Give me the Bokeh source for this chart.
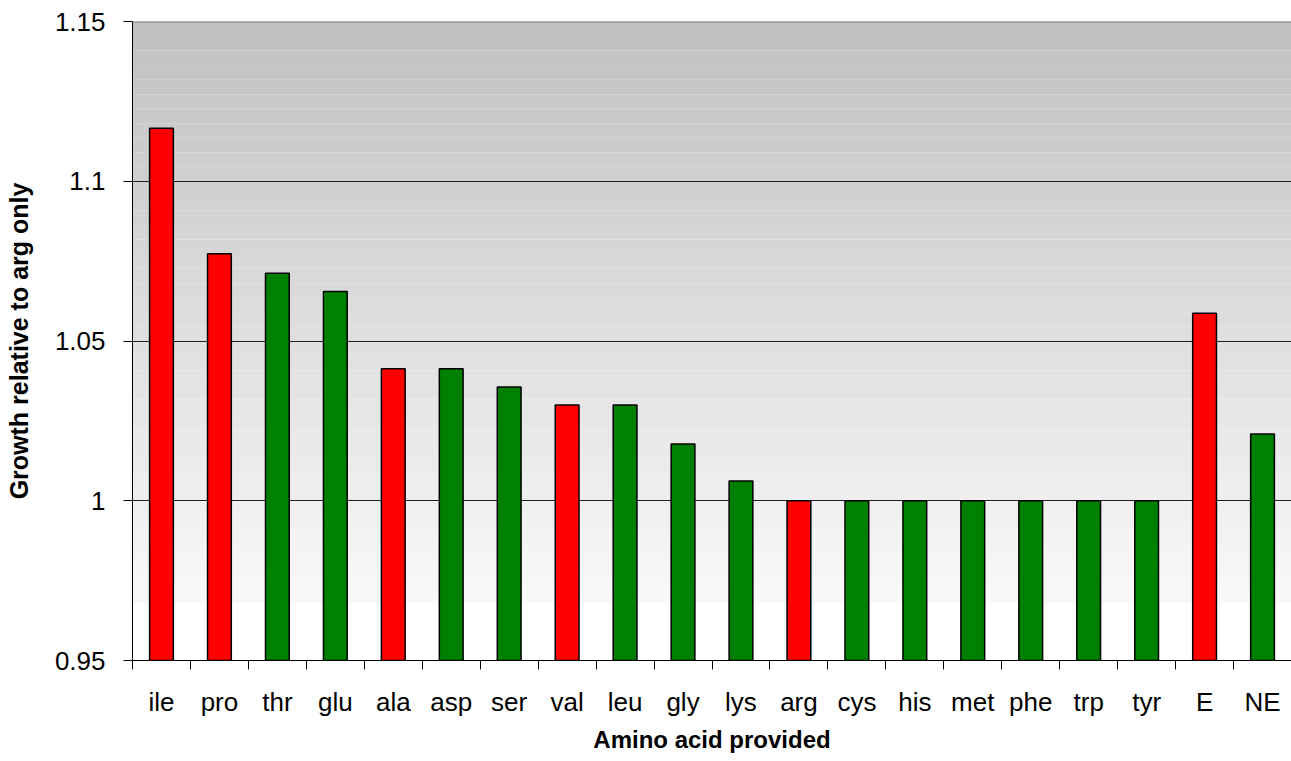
from bokeh.plotting import figure
from bokeh.models import FixedTicker, Range1d, BoxAnnotation, Span, ColumnDataSource
from bokeh.transform import factor_cmap
from bokeh.embed import file_html
from bokeh.resources import INLINE

categories = ["ile", "pro", "thr", "glu", "ala", "asp", "ser", "val", "leu", "gly",
              "lys", "arg", "cys", "his", "met", "phe", "trp", "tyr", "E", "NE"]
growth = [1.1166, 1.0773, 1.0712, 1.0655, 1.0413, 1.0413, 1.0356, 1.0300, 1.0300, 1.0178,
          1.0062, 1.0, 1.0, 1.0, 1.0, 1.0, 1.0, 1.0, 1.0587, 1.0209]
group = ["E", "E", "NE", "NE", "E", "NE", "NE", "E", "NE", "NE",
         "NE", "E", "NE", "NE", "NE", "NE", "NE", "NE", "E", "NE"]
y_ticks = [0.95, 1.0, 1.05, 1.1, 1.15]
y_tick_labels = ["0.95", "1", "1.05", "1.1", "1.15"]

FONT = "Liberation Sans"
n = len(categories)
xs = list(range(n))

src = ColumnDataSource(dict(x=xs, top=growth, cat=categories, grp=group))

p = figure(width=1291, height=761, output_backend="svg", toolbar_location=None,
           x_range=Range1d(-0.5, n - 0.5), y_range=Range1d(0.95, 1.15),
           min_border_left=132, min_border_right=0, min_border_top=21, min_border_bottom=101)
p.outline_line_color = None
p.background_fill_color = "white"
p.border_fill_color = "white"

# gradient background
y0, y1 = 0.968, 1.15
steps = 40
for i in range(steps):
    b = y0 + (y1 - y0) * i / steps
    t = y0 + (y1 - y0) * (i + 1) / steps
    frac = (i + 0.5) / steps
    g = int(round(249 - (249 - 192) * frac))
    p.add_layout(BoxAnnotation(bottom=b, top=t, fill_color=(g, g, g), fill_alpha=1.0,
                               line_color=None, level="image"))

p.vbar(x="x", top="top", bottom=0.95, width=0.41, source=src,
       fill_color=factor_cmap("grp", palette=["#ff0000", "#008000"], factors=["E", "NE"]),
       line_color="black", line_width=1.5)

p.add_layout(Span(location=1.15, dimension="width", line_color="#7f7f7f", line_width=2))

# grid
p.xgrid.visible = False
p.ygrid.ticker = FixedTicker(ticks=[1.0, 1.05, 1.1])
p.ygrid.grid_line_color = "#202020"
p.ygrid.grid_line_width = 1

# y axis
p.yaxis.ticker = FixedTicker(ticks=y_ticks, minor_ticks=[])
p.yaxis.major_label_overrides = {t: l for t, l in zip(y_ticks, y_tick_labels)}
p.yaxis.major_tick_out = 9
p.yaxis.major_tick_in = 0
p.yaxis.minor_tick_out = 0
p.yaxis.minor_tick_in = 0
p.yaxis.axis_line_color = "black"
p.yaxis.major_label_standoff = 18
p.yaxis.major_label_text_font = FONT
p.yaxis.major_label_text_font_size = "26px"
p.yaxis.major_label_text_color = "black"
p.yaxis.axis_label = "Growth relative to arg only"
p.yaxis.axis_label_text_font = FONT
p.yaxis.axis_label_text_font_style = "bold"
p.yaxis.axis_label_text_font_size = "25px"
p.yaxis.axis_label_text_color = "black"
p.yaxis.axis_label_standoff = 19

# x axis
p.xaxis.ticker = FixedTicker(ticks=xs, minor_ticks=[i - 0.5 for i in range(n + 1)])
p.xaxis.major_label_overrides = {i: c for i, c in enumerate(categories)}
p.xaxis.major_tick_out = 0
p.xaxis.major_tick_in = 0
p.xaxis.minor_tick_out = 9
p.xaxis.minor_tick_in = 0
p.xaxis.minor_tick_line_color = "black"
p.xaxis.axis_line_color = "black"
p.xaxis.major_label_standoff = 17
p.xaxis.major_label_text_font = FONT
p.xaxis.major_label_text_font_size = "26px"
p.xaxis.major_label_text_color = "black"
p.xaxis.axis_label = "Amino acid provided"
p.xaxis.axis_label_text_font = FONT
p.xaxis.axis_label_text_font_style = "bold"
p.xaxis.axis_label_text_font_size = "24px"
p.xaxis.axis_label_text_color = "black"
p.xaxis.axis_label_standoff = 6

open("out.html", "w").write(file_html(p, INLINE))
